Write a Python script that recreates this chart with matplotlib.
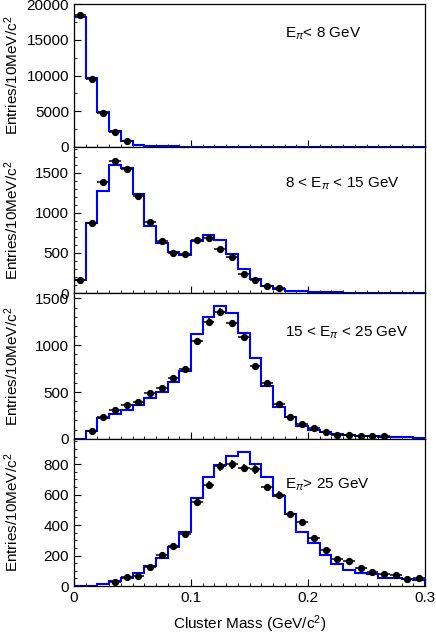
import numpy as np
import matplotlib
matplotlib.use("Agg")
import matplotlib.pyplot as plt
from matplotlib.ticker import MultipleLocator

plt.rcParams['font.family'] = ['Liberation Sans', 'DejaVu Sans']
plt.rcParams['mathtext.fontset'] = 'custom'
plt.rcParams['mathtext.rm'] = 'Liberation Sans'
plt.rcParams['mathtext.it'] = 'Liberation Sans:italic'

# bin edges, 10 MeV bins from 0 to 0.3 GeV
edges = np.round(np.arange(0, 0.3001, 0.01), 3)
centers = edges[:-1] + 0.005

# data points (0 = no visible point), blue histogram = MC
# E_pi < 8 GeV
data1 = [18460, 9490, 4770, 2060, 800, 0, 0, 0, 0, 0, 0, 0, 0, 0, 0,
         0, 0, 0, 0, 0, 0, 0, 0, 0, 0, 0, 0, 0, 0, 0]
mc1 = [18130, 9720, 4860, 2200, 890, 330, 190, 120, 80, 50, 35, 25, 18, 14, 10,
       8, 6, 5, 4, 3, 3, 2, 2, 2, 1, 1, 1, 1, 1, 1]

# 8 < E_pi < 15 GeV
data2 = [167, 867, 1387, 1646, 1542, 1208, 879, 646, 500, 483, 658, 688, 554, 450,
         233, 158, 83, 63, 0, 0, 0, 0, 0, 0, 0, 0, 0, 0, 0, 0]
mc2 = [158, 867, 1267, 1600, 1563, 1229, 838, 625, 512, 479, 650, 717, 658, 483,
       296, 175, 92, 50, 29, 20, 14, 10, 8, 6, 5, 4, 3, 3, 2, 2]

# 15 < E_pi < 25 GeV
data3 = [0, 89, 232, 304, 364, 396, 489, 543, 646, 746, 1039, 1250, 1357, 1236,
         1086, 782, 600, 375, 229, 157, 121, 75, 43, 39, 36, 29, 32, 0, 0, 0]
mc3 = [0, 89, 221, 268, 311, 364, 439, 504, 611, 725, 1114, 1300, 1418, 1346,
       1132, 864, 568, 339, 232, 143, 96, 75, 54, 43, 36, 29, 25, 21, 18, 14]

# E_pi > 25 GeV
data4 = [0, 0, 0, 28, 61, 68, 127, 201, 265, 343, 553, 662, 785, 798, 774, 765,
         647, 597, 472, 422, 313, 234, 175, 164, 118, 94, 81, 74, 46, 55]
mc4 = [0, 2, 15, 35, 55, 83, 133, 181, 256, 354, 575, 715, 794, 855, 877, 802,
       713, 592, 472, 354, 280, 203, 144, 107, 87, 77, 55, 50, 46, 37]

labels = [r'E$_{\pi}$< 8 GeV', r'8 < E$_{\pi}$ < 15 GeV',
          r'15 < E$_{\pi}$ < 25 GeV', r'E$_{\pi}$> 25 GeV']
ytops = [20000, 1820, 1555, 965]
ymajor = [5000, 500, 500, 200]
yminor = [2500, 100, 100, 50]
text_y = [0.79, 0.75, 0.73, 0.69]

fig = plt.figure(figsize=(4.36, 6.36), dpi=100)
left, width = 74 / 436, 351 / 436
panel_px = [(4, 147), (147, 293), (293, 439), (439, 586)]

for i, (top, bot) in enumerate(panel_px):
    ax = fig.add_axes([left, 1 - bot / 636, width, (bot - top) / 636])
    d = np.array([data1, data2, data3, data4][i], dtype=float)
    m = np.array([mc1, mc2, mc3, mc4][i], dtype=float)
    ax.stairs(m, edges, color='#0000ff', lw=1.5, zorder=2)
    ok = d > 0
    ax.errorbar(centers[ok], d[ok], xerr=0.005, yerr=np.sqrt(d[ok]), fmt='o',
                color='black', ms=4.2, elinewidth=1.1, capsize=0, zorder=3)
    ax.set_xlim(0, 0.3)
    ax.set_ylim(0, ytops[i])
    ax.xaxis.set_major_locator(MultipleLocator(0.1))
    ax.xaxis.set_minor_locator(MultipleLocator(0.01))
    ax.yaxis.set_major_locator(MultipleLocator(ymajor[i]))
    ax.yaxis.set_minor_locator(MultipleLocator(yminor[i]))
    ax.tick_params(which='both', direction='in', top=False, right=False,
                   labelsize=11)
    ax.tick_params(which='major', length=5)
    ax.tick_params(which='minor', length=2.5)
    for s in ax.spines.values():
        s.set_linewidth(0.9)
    ax.set_ylabel('Entries/10MeV/c$^2$', fontsize=11)
    ax.yaxis.set_label_coords(-0.15, 0.5)
    ax.text(0.60, text_y[i], labels[i], transform=ax.transAxes, fontsize=11,
            va='center', ha='left')
    if i < 3:
        ax.set_xticklabels([])
    else:
        ax.set_xticks([0, 0.1, 0.2, 0.3])
        ax.set_xticklabels(['0', '0.1', '0.2', '0.3'])
        ax.set_xlabel('Cluster Mass (GeV/c$^2$)', fontsize=11, labelpad=6)

fig.savefig('out.png', dpi=100)
